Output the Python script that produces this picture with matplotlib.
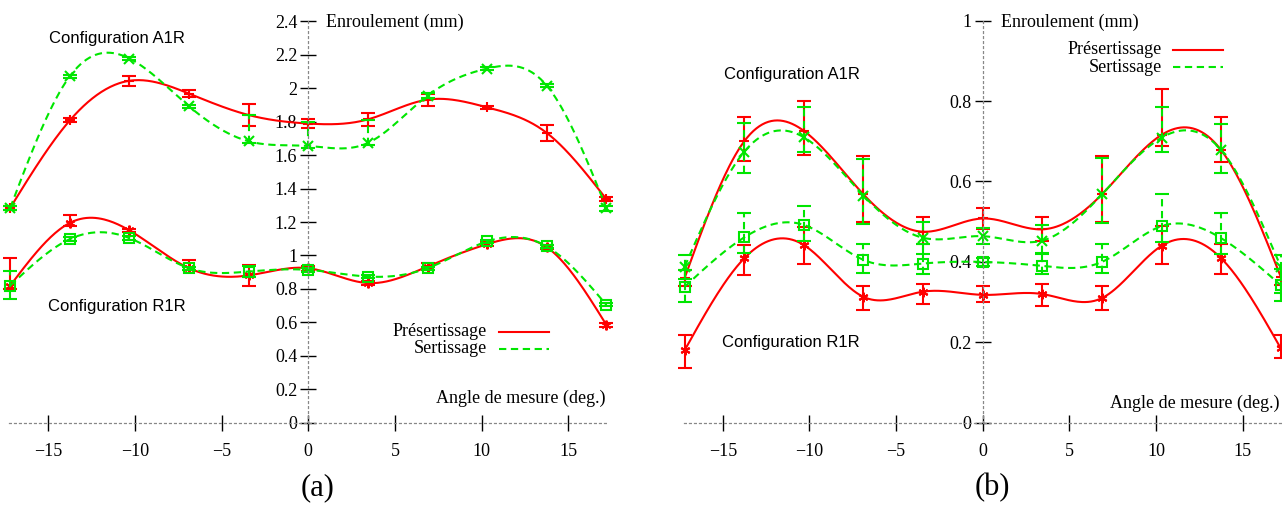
import numpy as np
import matplotlib
matplotlib.use('Agg')
import matplotlib.pyplot as plt
from matplotlib.lines import Line2D
from matplotlib.ticker import FormatStrFormatter, MultipleLocator

angles = [-17.2, -13.76, -10.32, -6.88, -3.44, 0, 3.44, 6.88, 10.32, 13.76, 17.2]

# panel (a)
a_a1r_pre = [1.285, 1.808, 2.045, 1.968, 1.84, 1.789, 1.814, 1.932, 1.886, 1.733, 1.337]
a_a1r_pre_lo = [0.01, 0.012, 0.03, 0.02, 0.067, 0.025, 0.04, 0.035, 0.01, 0.05, 0.013]
a_a1r_pre_hi = [0.01, 0.012, 0.03, 0.02, 0.067, 0.025, 0.04, 0.035, 0.01, 0.05, 0.013]
a_a1r_ser = [1.285, 2.072, 2.178, 1.892, 1.683, 1.655, 1.673, 1.956, 2.118, 2.016, 1.284]
a_a1r_ser_lo = [0.01, 0.01, 0.01, 0.01, 0.01, 0.01, 0.01, 0.015, 0.01, 0.01, 0.02]
a_a1r_ser_hi = [0.01, 0.01, 0.01, 0.01, 0.16, 0.145, 0.14, 0.015, 0.01, 0.01, 0.01]
a_r1r_pre = [0.82, 1.195, 1.15, 0.924, 0.881, 0.924, 0.835, 0.934, 1.068, 1.05, 0.585]
a_r1r_pre_lo = [0.02, 0.02, 0.01, 0.01, 0.063, 0.015, 0.01, 0.02, 0.01, 0.01, 0.012]
a_r1r_pre_hi = [0.165, 0.045, 0.01, 0.05, 0.063, 0.015, 0.01, 0.02, 0.01, 0.01, 0.012]
a_r1r_ser = [0.82, 1.098, 1.104, 0.924, 0.904, 0.914, 0.874, 0.924, 1.084, 1.054, 0.705]
a_r1r_ser_lo = [0.08, 0.01, 0.01, 0.01, 0.035, 0.01, 0.01, 0.01, 0.01, 0.01, 0.01]
a_r1r_ser_hi = [0.085, 0.01, 0.01, 0.01, 0.035, 0.01, 0.01, 0.01, 0.01, 0.01, 0.01]

# panel (b)
b_a1r_pre = [0.36, 0.70, 0.726, 0.568, 0.475, 0.508, 0.481, 0.568, 0.716, 0.678, 0.363]
b_a1r_pre_lo = [0.02, 0.05, 0.06, 0.068, 0.03, 0.025, 0.03, 0.068, 0.027, 0.03, 0.02]
b_a1r_pre_hi = [0.02, 0.06, 0.074, 0.096, 0.036, 0.025, 0.031, 0.096, 0.113, 0.082, 0.02]
b_a1r_ser = [0.388, 0.674, 0.71, 0.565, 0.46, 0.464, 0.453, 0.568, 0.709, 0.678, 0.388]
b_a1r_ser_lo = [0.03, 0.054, 0.036, 0.07, 0.04, 0.02, 0.03, 0.07, 0.035, 0.058, 0.065]
b_a1r_ser_hi = [0.03, 0.071, 0.075, 0.09, 0.04, 0.02, 0.04, 0.09, 0.076, 0.065, 0.03]
b_r1r_pre = [0.18, 0.409, 0.442, 0.313, 0.326, 0.318, 0.32, 0.31, 0.44, 0.409, 0.185]
b_r1r_pre_lo = [0.045, 0.042, 0.046, 0.033, 0.031, 0.018, 0.03, 0.03, 0.045, 0.04, 0.025]
b_r1r_pre_hi = [0.038, 0.033, 0.045, 0.027, 0.019, 0.022, 0.025, 0.03, 0.05, 0.035, 0.033]
b_r1r_ser = [0.338, 0.461, 0.492, 0.405, 0.396, 0.40, 0.39, 0.40, 0.489, 0.459, 0.342]
b_r1r_ser_lo = [0.037, 0.04, 0.04, 0.032, 0.026, 0.01, 0.02, 0.027, 0.04, 0.04, 0.04]
b_r1r_ser_hi = [0.042, 0.06, 0.048, 0.04, 0.049, 0.01, 0.03, 0.045, 0.081, 0.062, 0.04]

RED = '#ff0000'
GREEN = '#00e600'
SERIF = 'Liberation Serif'
SANS = 'Liberation Sans'
W, H = 1282, 505


def fx(px):
    return px / W


def fy(py):
    return 1 - py / H


def csplines(x, y, n=400):
    # natural cubic spline, like gnuplot "smooth csplines"
    x = np.asarray(x, float)
    y = np.asarray(y, float)
    k = len(x)
    h = np.diff(x)
    A = np.zeros((k, k))
    r = np.zeros(k)
    A[0, 0] = A[-1, -1] = 1
    for i in range(1, k - 1):
        A[i, i - 1] = h[i - 1]
        A[i, i] = 2 * (h[i - 1] + h[i])
        A[i, i + 1] = h[i]
        r[i] = 6 * ((y[i + 1] - y[i]) / h[i] - (y[i] - y[i - 1]) / h[i - 1])
    M = np.linalg.solve(A, r)
    xs = np.linspace(x[0], x[-1], n)
    idx = np.clip(np.searchsorted(x, xs) - 1, 0, k - 2)
    x0, x1 = x[idx], x[idx + 1]
    hh = x1 - x0
    a = (x1 - xs) / hh
    b = (xs - x0) / hh
    ys = a * y[idx] + b * y[idx + 1] + ((a**3 - a) * M[idx] + (b**3 - b) * M[idx + 1]) * hh**2 / 6
    return xs, ys


def series(ax, y, lo, hi, color, ls, marker):
    xs, ys = csplines(angles, y)
    ax.plot(xs, ys, color=color, ls=ls, lw=1.5, dashes=(3.5, 2.2) if ls == '--' else (None, None))
    eb = ax.errorbar(angles, y, yerr=[lo, hi], fmt='none', ecolor=color, elinewidth=1.5,
                     capsize=5, capthick=1.5, clip_on=False)
    if ls == '--':
        eb[2][0].set_linestyle((0, (3.5, 2.2)))
    mfc = 'none' if marker == 's' else color
    ax.plot(angles, y, ls='none', marker=marker, ms=7, mew=1.5, color=color,
            mfc=mfc, clip_on=False)


def setup(ax, ylim, ystep):
    ax.set_xlim(-17.25, 17.25)
    ax.set_ylim(*ylim)
    for s in ['top', 'right']:
        ax.spines[s].set_visible(False)
    for s in ['left', 'bottom']:
        ax.spines[s].set_position(('data', 0))
        ax.spines[s].set_linestyle((0, (1.5, 2.5)))
        ax.spines[s].set_color('#888888')
        ax.spines[s].set_linewidth(0.9)
    ax.xaxis.set_major_locator(MultipleLocator(5))
    ax.yaxis.set_major_locator(MultipleLocator(ystep))
    ax.yaxis.set_major_formatter(FormatStrFormatter('%g'))
    ax.tick_params(axis='y', direction='inout', length=11, width=1.0, pad=2.5,
                   labelsize=13, color='black')
    ax.tick_params(axis='x', direction='inout', length=12, width=1.0, pad=8.5,
                   labelsize=13, color='black')
    for lab in ax.get_xticklabels() + ax.get_yticklabels():
        lab.set_fontfamily(SERIF)
    ax.patch.set_visible(False)


fig = plt.figure(figsize=(W / 100, H / 100), dpi=100)

# axes positions (pixels): x=0 at 308.3 / 982.7, 17.33 px per degree
axw = 34.5 * 17.33
ax1 = fig.add_axes([fx(308.3 - 17.25 * 17.33), fy(422.7), fx(axw), (422.7 - 21.4) / H])
ax2 = fig.add_axes([fx(982.7 - 17.25 * 17.33), fy(422.7), fx(axw), (422.7 - 20.7) / H])

setup(ax1, (0, 2.4), 0.2)
series(ax1, a_a1r_pre, a_a1r_pre_lo, a_a1r_pre_hi, RED, '-', '+')
series(ax1, a_r1r_pre, a_r1r_pre_lo, a_r1r_pre_hi, RED, '-', (6, 2, 0))
series(ax1, a_a1r_ser, a_a1r_ser_lo, a_a1r_ser_hi, GREEN, '--', 'x')
series(ax1, a_r1r_ser, a_r1r_ser_lo, a_r1r_ser_hi, GREEN, '--', 's')

setup(ax2, (0, 1), 0.2)
series(ax2, b_a1r_pre, b_a1r_pre_lo, b_a1r_pre_hi, RED, '-', '+')
series(ax2, b_r1r_pre, b_r1r_pre_lo, b_r1r_pre_hi, RED, '-', (6, 2, 0))
series(ax2, b_a1r_ser, b_a1r_ser_lo, b_a1r_ser_hi, GREEN, '--', 'x')
series(ax2, b_r1r_ser, b_r1r_ser_lo, b_r1r_ser_hi, GREEN, '--', 's')

# annotations
fig.text(fx(117), fy(38), 'Configuration A1R', family=SANS, fontsize=12, ha='center', va='center')
fig.text(fx(117), fy(306.5), 'Configuration R1R', family=SANS, fontsize=12, ha='center', va='center')
fig.text(fx(792), fy(75), 'Configuration A1R', family=SANS, fontsize=12, ha='center', va='center')
fig.text(fx(791), fy(343), 'Configuration R1R', family=SANS, fontsize=12, ha='center', va='center')

fig.text(fx(326), fy(22), 'Enroulement (mm)', family=SERIF, fontsize=13, ha='left', va='center')
fig.text(fx(1001), fy(22), 'Enroulement (mm)', family=SERIF, fontsize=13, ha='left', va='center')
fig.text(fx(606), fy(398), 'Angle de mesure (deg.)', family=SERIF, fontsize=13, ha='right', va='center')
fig.text(fx(1279), fy(403), 'Angle de mesure (deg.)', family=SERIF, fontsize=13, ha='right', va='center')

# legends
for (tx, ty, l0, l1) in [(487, 331.5, 499, 549), (1162, 50, 1173, 1223)]:
    fig.text(fx(tx), fy(ty), 'Présertissage', family=SERIF, fontsize=13, ha='right', va='center')
    fig.text(fx(tx), fy(ty + 17), 'Sertissage', family=SERIF, fontsize=13, ha='right', va='center')
    fig.add_artist(Line2D([fx(l0), fx(l1)], [fy(ty), fy(ty)], color=RED, lw=1.5,
                          transform=fig.transFigure))
    fig.add_artist(Line2D([fx(l0), fx(l1)], [fy(ty + 17), fy(ty + 17)], color=GREEN, lw=1.5,
                          dashes=(3.5, 2.2), transform=fig.transFigure))

fig.text(fx(318), fy(488), '(a)', family=SERIF, fontsize=22, ha='center', va='center')
fig.text(fx(992), fy(488), '(b)', family=SERIF, fontsize=22, ha='center', va='center')

fig.savefig('out.png', dpi=100)
